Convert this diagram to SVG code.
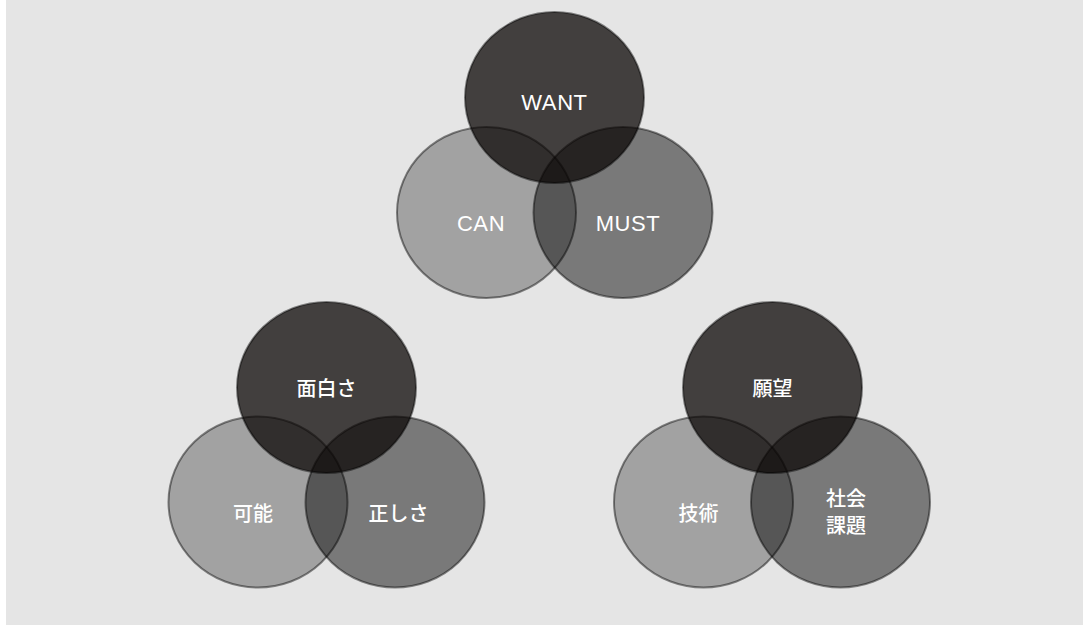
<svg xmlns="http://www.w3.org/2000/svg" width="1083" height="626" viewBox="0 0 1083 626">
<style>
.c{stroke:#000;stroke-opacity:0.45;stroke-width:2}
.light{fill:#000;fill-opacity:0.29}
.mid{fill:#000;fill-opacity:0.47}
.dark{fill:#0a0504;fill-opacity:0.74}
.en{font-family:"Liberation Sans",Arial,sans-serif;font-size:22px;fill:#fff;text-anchor:middle;letter-spacing:0.6px}
.ja{font-family:"Noto Sans CJK JP","Noto Sans",sans-serif;font-size:20px;font-weight:500;fill:#fff;text-anchor:middle}
</style>
<rect x="0" y="0" width="1083" height="626" fill="#ffffff"/>
<rect x="6" y="0" width="1077" height="625" fill="#e5e5e5"/>

<g id="can"><ellipse class="c light" cx="486.5" cy="212.5" rx="89.5" ry="85.5"/><text class="en" x="481" y="231">CAN</text></g>
<g id="must"><ellipse class="c mid" cx="623" cy="212.5" rx="89.5" ry="85.5"/><text class="en" x="628" y="231">MUST</text></g>
<g id="want"><ellipse class="c dark" cx="554.5" cy="97.5" rx="89.5" ry="85.5"/><text class="en" x="554.5" y="110">WANT</text></g>

<g id="kanou"><ellipse class="c light" cx="258" cy="502" rx="89.5" ry="85.5"/><text class="ja" x="253" y="521">可能</text></g>
<g id="tadashisa"><ellipse class="c mid" cx="395" cy="502" rx="89.5" ry="85.5"/><text class="ja" x="398.5" y="521">正しさ</text></g>
<g id="omoshirosa"><ellipse class="c dark" cx="326.5" cy="387.5" rx="89.5" ry="85.5"/><text class="ja" x="326.5" y="396">面白さ</text></g>

<g id="gijutsu"><ellipse class="c light" cx="703.5" cy="502" rx="89.5" ry="85.5"/><text class="ja" x="698.5" y="521">技術</text></g>
<g id="shakaikadai"><ellipse class="c mid" cx="840.5" cy="502" rx="89.5" ry="85.5"/><text class="ja" x="846" y="506">社会</text><text class="ja" x="846" y="533">課題</text></g>
<g id="ganbou"><ellipse class="c dark" cx="772.5" cy="387.5" rx="89.5" ry="85.5"/><text class="ja" x="772.5" y="396">願望</text></g>

<g id="connectors"></g>
</svg>
